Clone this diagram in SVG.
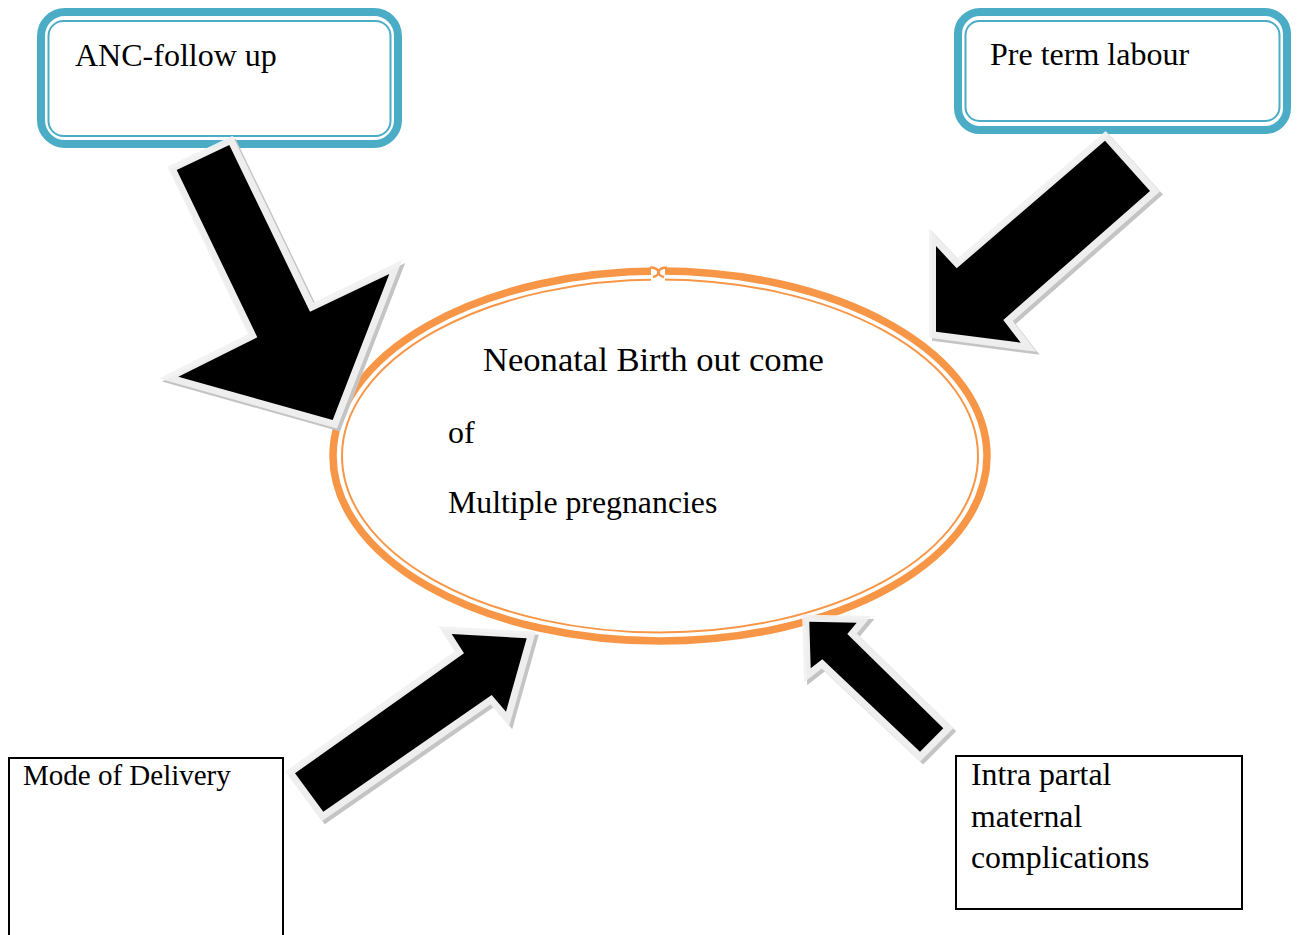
<svg xmlns="http://www.w3.org/2000/svg" xmlns:xlink="http://www.w3.org/1999/xlink" width="1297" height="935" viewBox="0 0 1297 935">
<style>
text{font-family:"Liberation Serif","Times New Roman",Times,serif;fill:#000}
.outer{fill:#fff;stroke:#4BACC6;stroke-width:8}
.inner{fill:none;stroke:#4BACC6;stroke-width:2}
.box{fill:#fff;stroke:#000;stroke-width:2}
.ring1{fill:none;stroke:#F79646;stroke-width:7.5}
.ring2{fill:none;stroke:#F79646;stroke-width:2}
.shadow{fill:#C4C4C4;stroke:#C4C4C4;stroke-width:14;stroke-linejoin:miter;stroke-miterlimit:10}
.rim{fill:#F2F2F2;stroke:#F2F2F2;stroke-width:14;stroke-linejoin:miter;stroke-miterlimit:10;opacity:0.93}
.body{fill:#000}
</style>
<defs>
<polygon id="a1" points="176.7,170 229.3,145 310,311.7 389.3,274 332.7,420 178.3,376.7 257.3,337.3"/>
<polygon id="a2" points="1105,140.7 1150,191 1003.3,320 1020.7,342.7 936,331.7 936,246 956.7,268.3"/>
<polygon id="a3" points="295,773.3 464,653.3 451.7,634 526.7,638.3 506,711.7 491.7,695 323.3,811.7"/>
<polygon id="a4" points="809.3,621.7 856.7,622.7 847.3,634 943.3,728.3 920,751.7 822.3,659.3 810.7,668.3"/>
</defs>
<rect width="1297" height="935" fill="#fff"/>
<g id="node-anc">
<rect class="outer" x="41" y="12" width="357" height="132" rx="24"/>
<rect class="inner" x="48.5" y="21" width="342" height="115" rx="15"/>
<text x="75" y="66" font-size="32">ANC-follow up</text>
</g>
<g id="node-preterm">
<rect class="outer" x="958" y="12" width="329" height="118" rx="22"/>
<rect class="inner" x="965.5" y="21" width="314" height="100" rx="14"/>
<text x="990" y="65" font-size="32">Pre term labour</text>
</g>
<g id="node-center">
<ellipse class="ring1" cx="660" cy="456" rx="327" ry="185"/>
<ellipse class="ring2" cx="660" cy="456" rx="318" ry="176.5"/>
<rect x="651" y="264" width="14" height="20" fill="#fff"/>
<path d="M650,267.5 q7,0 9,4.5 q-1,4 -6,5" fill="none" stroke="#F79646" stroke-width="2.5"/>
<path d="M667,267.5 q-7,0 -9,4.5 q1,4 6,5" fill="none" stroke="#F79646" stroke-width="2.5"/>
<text x="483" y="371" font-size="34.6">Neonatal Birth out come</text>
<text x="448" y="443" font-size="32">of</text>
<text x="448" y="513" font-size="31.8">Multiple pregnancies</text>
</g>
<g id="node-mode">
<rect class="box" x="9" y="758" width="274" height="200"/>
<text x="23" y="785" font-size="29">Mode of Delivery</text>
</g>
<g id="node-intra">
<rect class="box" x="956" y="756" width="286" height="153"/>
<text x="971" y="785" font-size="31.8">Intra partal</text>
<text x="971" y="827" font-size="31.8">maternal</text>
<text x="971" y="868" font-size="31.8">complications</text>
</g>
<g id="connectors">
<g id="arrow-anc">
<use href="#a1" xlink:href="#a1" class="shadow" transform="translate(3,3)"/>
<use href="#a1" xlink:href="#a1" class="rim"/>
<use href="#a1" xlink:href="#a1" class="body"/>
</g>
<g id="arrow-preterm">
<use href="#a2" xlink:href="#a2" class="shadow" transform="translate(3,3)"/>
<use href="#a2" xlink:href="#a2" class="rim"/>
<use href="#a2" xlink:href="#a2" class="body"/>
</g>
<g id="arrow-mode">
<use href="#a3" xlink:href="#a3" class="shadow" transform="translate(3,3)"/>
<use href="#a3" xlink:href="#a3" class="rim"/>
<use href="#a3" xlink:href="#a3" class="body"/>
</g>
<g id="arrow-intra">
<use href="#a4" xlink:href="#a4" class="shadow" transform="translate(3,3)"/>
<use href="#a4" xlink:href="#a4" class="rim"/>
<use href="#a4" xlink:href="#a4" class="body"/>
</g>
</g>
</svg>
